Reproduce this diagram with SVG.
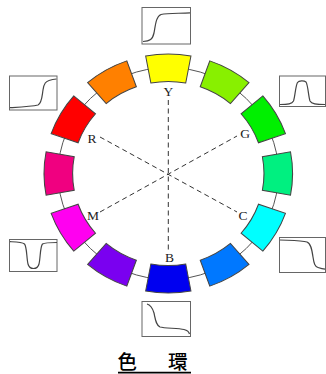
<svg xmlns="http://www.w3.org/2000/svg" width="326" height="374" viewBox="0 0 326 374">
<style>
.seg{stroke:#444;stroke-width:1;vector-effect:non-scaling-stroke}
.ring{fill:none;stroke:#555;stroke-width:1;vector-effect:non-scaling-stroke}
.dash{fill:none;stroke:#333;stroke-width:1;stroke-dasharray:5 3.5}
.box{fill:#fff;stroke:#666;stroke-width:1}
.crv{fill:none;stroke:#444;stroke-width:1.2}
.lbl{font-family:"Liberation Serif","Times New Roman",serif;font-size:13.5px;fill:#222;text-anchor:middle}
.title{font-family:"Noto Sans CJK JP","Noto Sans CJK SC",sans-serif;font-size:19.5px;font-weight:500;fill:#000}
</style>
<defs>
<path id="sector" d="M -21.77 -117.5 A 119.5 119.5 0 0 1 21.77 -117.5 L 16.76 -90.46 A 92 92 0 0 0 -16.76 -90.46 Z"/>
</defs>
<rect width="326" height="374" fill="#fff"/>
<g id="connectors">
<g transform="translate(168.3 173.5) scale(1.04 1)"><circle class="ring" r="106"/></g>
<line class="dash" x1="168.3" y1="100" x2="168.3" y2="252"/>
<line class="dash" x1="100" y1="137" x2="237" y2="212"/>
<line class="dash" x1="100" y1="212" x2="237" y2="136"/>
</g>
<g id="wheel" transform="translate(168.3 173.5) scale(1.04 1)">
<g id="seg-yellow"><use href="#sector" class="seg" fill="#ffff00" transform="rotate(0)"/></g>
<g id="seg-chartreuse"><use href="#sector" class="seg" fill="#88f000" transform="rotate(30)"/></g>
<g id="seg-green"><use href="#sector" class="seg" fill="#00f000" transform="rotate(60)"/></g>
<g id="seg-spring"><use href="#sector" class="seg" fill="#00f080" transform="rotate(90)"/></g>
<g id="seg-cyan"><use href="#sector" class="seg" fill="#00ffff" transform="rotate(120)"/></g>
<g id="seg-azure"><use href="#sector" class="seg" fill="#0078ff" transform="rotate(150)"/></g>
<g id="seg-blue"><use href="#sector" class="seg" fill="#0000f0" transform="rotate(180)"/></g>
<g id="seg-violet"><use href="#sector" class="seg" fill="#7a00f0" transform="rotate(210)"/></g>
<g id="seg-magenta"><use href="#sector" class="seg" fill="#ff00f0" transform="rotate(240)"/></g>
<g id="seg-rose"><use href="#sector" class="seg" fill="#f00080" transform="rotate(270)"/></g>
<g id="seg-red"><use href="#sector" class="seg" fill="#ff0000" transform="rotate(300)"/></g>
<g id="seg-orange"><use href="#sector" class="seg" fill="#ff8000" transform="rotate(330)"/></g>
</g>
<g id="labels">
<text class="lbl" x="168.3" y="96">Y</text>
<text class="lbl" x="169.5" y="262">B</text>
<text class="lbl" x="92" y="143">R</text>
<text class="lbl" x="245" y="138">G</text>
<text class="lbl" x="93" y="220">M</text>
<text class="lbl" x="243" y="220">C</text>
</g>
<g id="box-top">
<rect class="box" x="142" y="7.5" width="48.5" height="36.5"/>
<path class="crv" d="M 143 41.5 C 150 41 152.5 39.5 154 33 C 155.5 25 156 16.5 161 14.5 C 168 13 180 13.5 190 12.8"/>
</g>
<g id="box-ul">
<rect class="box" x="9.5" y="76" width="47.5" height="34"/>
<path class="crv" d="M 10 107.7 C 22 107 32 106.5 38 105 C 42 103 42 96 43 90 C 44 83 46 81.5 49 80.5 C 52 79.5 54 79.2 56.5 79"/>
</g>
<g id="box-ll">
<rect class="box" x="9.5" y="239.5" width="47.5" height="32"/>
<path class="crv" d="M 10 241.7 C 18 242 22 242 24.5 244 C 27 247 26.5 258 28 264 C 29 268 31.5 268.5 33.5 268.5 C 36 268.5 38 268 39 264 C 40.5 258 40 247 42.5 244 C 45 242.5 50 242.5 57 242.5"/>
</g>
<g id="box-ur">
<rect class="box" x="279.5" y="76" width="46" height="30.5"/>
<path class="crv" d="M 280 104.5 C 288 104.5 292 104 293.5 101 C 295 97 295.5 86 297.5 82.5 C 299 80.5 304 80.5 306 82 C 308 85 308.5 97 310 101 C 311.5 104 316 104.5 325 104.5"/>
</g>
<g id="box-lr">
<rect class="box" x="279.5" y="237.5" width="46" height="35"/>
<path class="crv" d="M 280 240 C 292 240.5 302 240.5 307 242 C 311 243.5 312 250 313 257 C 314 264 315 266.5 318 267.5 C 321 268.5 323 269 325 269.2"/>
</g>
<g id="box-bottom">
<rect class="box" x="142" y="301.5" width="48.5" height="35"/>
<path class="crv" d="M 147 304 C 151 305 152.5 308 154 313 C 155.5 320 156 325 160 327 C 165 328.5 178 328 184 329.5 C 188 330.5 189 332 189.5 334"/>
</g>
<g id="title">
<text class="title" x="117.5 142.5 168" y="368.5">色　環</text>
<line x1="118" y1="372.6" x2="191" y2="372.6" stroke="#000" stroke-width="1.6"/>
</g>
</svg>
